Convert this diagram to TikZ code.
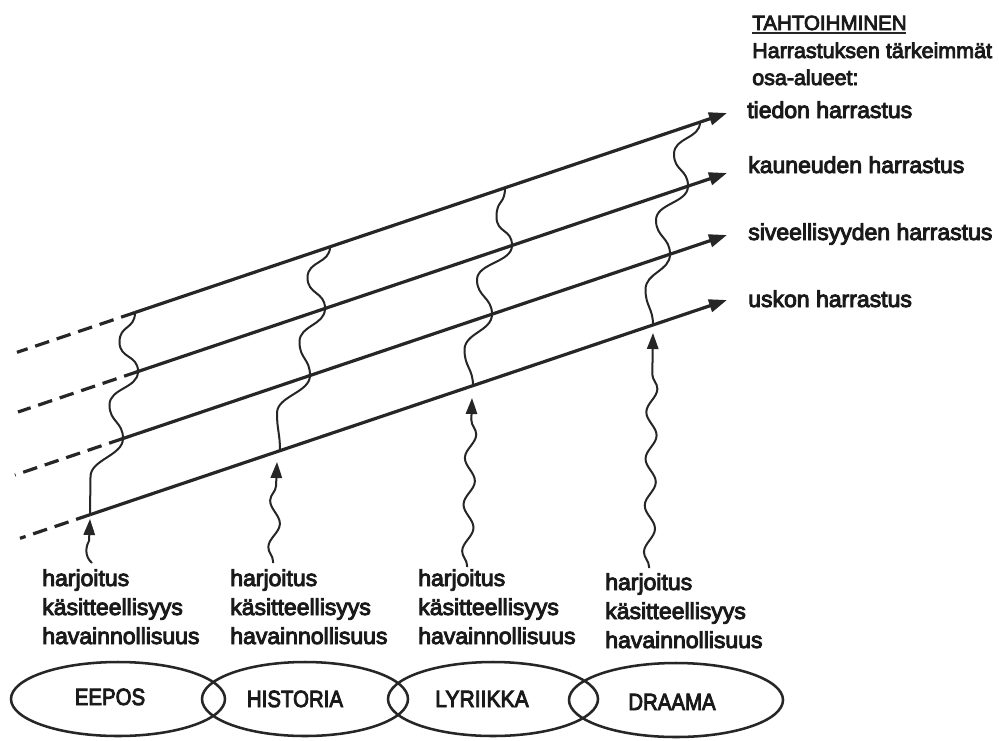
\documentclass[tikz,border=0pt]{standalone}
\usepackage{fontspec}
\setmainfont{Liberation Sans}[FakeBold=4]
\usetikzlibrary{arrows.meta,decorations.pathmorphing,calc,shapes.geometric}
\definecolor{ink}{HTML}{262626}
\definecolor{txt}{HTML}{1A1A1A}
\newcommand\wavseg[3]{\draw[wavy] (#1) .. controls +(0,-17) and +(0,17) .. ($(#1)!0.5!(#2)+(-#3,0)$) .. controls +(0,-17) and +(0,17) .. (#2);}
\begin{document}
\begin{tikzpicture}[x=0.75pt,y=-0.75pt,
  mainln/.style={draw=ink,line width=2.4pt,-{Triangle[length=13.5pt,width=9.5pt]}},
  dashln/.style={draw=ink,line width=2.4pt,dash pattern=on 11pt off 6pt},
  wavy/.style={draw=ink,line width=1.5pt},
  tipw/.style={-{Triangle[length=12pt,width=8.5pt]}},
  snk/.style={decorate,decoration={snake,amplitude=4pt,segment length=35pt,post length=14pt,pre length=1pt}},
  lab/.style={anchor=base west,inner sep=0pt,text=txt,font=\fontsize{17.25}{20}\selectfont},
  hdr/.style={anchor=base west,inner sep=0pt,text=txt,font=\fontsize{16.1}{20}\selectfont},
  capl/.style={anchor=base,inner sep=0pt,text=txt,font=\fontsize{17.6}{20}\selectfont},
  genre/.style={draw=ink,line width=1.9pt,ellipse,inner sep=0pt,minimum height=55.5pt}
]
\useasboundingbox (0,0) rectangle (999,740);
\fill[white] (0,0) rectangle (999,740);

% line end points
\coordinate (D1) at (17,352.3);  \coordinate (S1) at (135,312.5); \coordinate (T1) at (727,113);
\coordinate (D2) at (18,412);    \coordinate (S2) at (138,371.5); \coordinate (T2) at (727,173);
\coordinate (D3) at (15,475);    \coordinate (S3) at (123,438.5); \coordinate (T3) at (727,235);
\coordinate (D4) at (20,538.3);  \coordinate (S4) at (90,514.7);  \coordinate (T4) at (727,300);

% crossing points of the wavy connectors
\coordinate (b4) at (280,450.6); \coordinate (b3) at (310,375.5); \coordinate (b2) at (325,308.5); \coordinate (b1) at (330,246.8);
\coordinate (c4) at (473,385.6); \coordinate (c3) at (492,314.2); \coordinate (c2) at (512,245.5); \coordinate (c1) at (505,187.8);
\coordinate (d4) at (653,324.9); \coordinate (d3) at (670,254.2); \coordinate (d2) at (688,186.1); \coordinate (d1) at (700,122.1);

% main lines
\foreach \k in {1,...,4}{
  \draw[dashln] (S\k) -- (D\k);
  \draw[mainln] (S\k) -- (T\k);
}

% wavy connectors between the lines
\wavseg{S4}{S3}{16} \wavseg{S3}{S2}{21} \wavseg{S2}{S1}{17}
\wavseg{b4}{b3}{18} \wavseg{b3}{b2}{18} \wavseg{b2}{b1}{20}
\wavseg{c4}{c3}{18} \wavseg{c3}{c2}{25} \wavseg{c2}{c1}{12}
\wavseg{d4}{d3}{16} \wavseg{d3}{d2}{23} \wavseg{d2}{d1}{20}

% wavy arrows from below
\coordinate (q1) at (92,563);  \coordinate (r1) at (90,519);
\coordinate (q2) at (273,563); \coordinate (r2) at (277,462);
\coordinate (q3) at (467,567); \coordinate (r3) at (472,398);
\coordinate (q4) at (649,568); \coordinate (r4) at (653,333);
\coordinate (m1) at (89,541);
\draw[wavy,tipw] (q1) .. controls (84,556) and (86,546) .. (m1) -- (r1);
\draw[wavy,tipw,snk] (q2) -- (r2);
\draw[wavy,tipw,snk] (q3) -- (r3);
\draw[wavy,tipw,snk] (q4) -- (r4);

% right-hand texts
\node[hdr,font=\fontsize{15.4}{20}\selectfont] (tah) at (752,30) {TAHTOIHMINEN};
\draw[ink,line width=1.2pt] ([yshift=-2.4pt]tah.base west) -- ([yshift=-2.4pt,xshift=-1pt]tah.base east);
\node[hdr] (har) at (752,58) {Harrastuksen tärkeimmät};
\node[hdr] (osa) at (752,85) {osa-alueet:};
\node[lab] (t1) at (747,118) {tiedon harrastus};
\node[lab] (t2) at (748,173) {kauneuden harrastus};
\node[lab] (t3) at (748,240) {siveellisyyden harrastus};
\node[lab] (t4) at (748,307) {uskon harrastus};

% bottom text blocks
\foreach \x/\s/\n in {42/0/1,230/0/2,418/0/3,605/4/4}{
  \node[lab] (hj\n) at (\x,586+\s) {harjoitus};
  \node[lab] (ks\n) at (\x,615+\s) {käsitteellisyys};
  \node[lab] (hv\n) at (\x,644+\s) {havainnollisuus};
}

% genre ellipses
\node[genre,minimum width=160.5pt] (e1) at (118,699) {};
\node[genre,minimum width=154.5pt] (e2) at (305,699) {};
\node[genre,minimum width=157.5pt] (e3) at (493,699) {};
\node[genre,minimum width=160.5pt] (e4) at (676,700) {};
\node[capl] (g1) at (110,705) {\scalebox{0.87}[1]{EEPOS}};
\node[capl] (g2) at (295,707) {\scalebox{0.87}[1]{HISTORIA}};
\node[capl] (g3) at (482,707) {\scalebox{0.9}[1]{LYRIIKKA}};
\node[capl] (g4) at (672,710) {\scalebox{0.87}[1]{DRAAMA}};
\end{tikzpicture}
\end{document}
